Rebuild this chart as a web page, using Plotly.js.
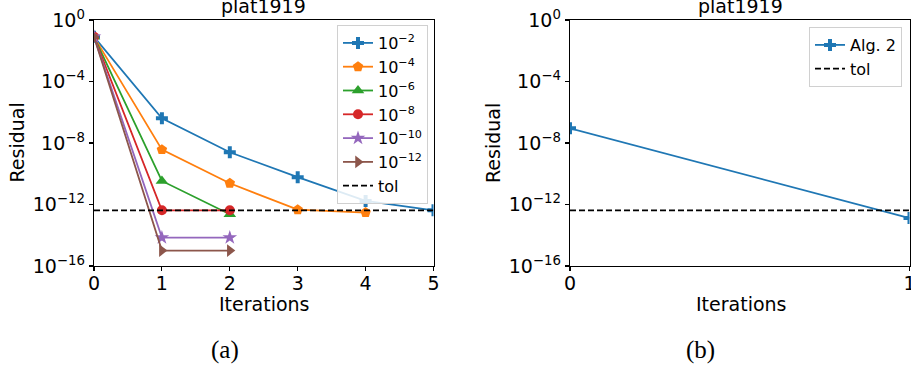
<!DOCTYPE html>
<html>
<head>
<meta charset="utf-8">
<script src="https://cdn.plot.ly/plotly-3.0.1.min.js"></script>
<style>html,body{margin:0;padding:0;background:#fff;}#chart{width:911px;height:370px;}</style>
</head>
<body>
<div id="chart"></div>
<script>
// ---- data ----
const seriesNames = ["10<sup>−2</sup>", "10<sup>−4</sup>", "10<sup>−6</sup>", "10<sup>−8</sup>", "10<sup>−10</sup>", "10<sup>−12</sup>"];
const iters_1e2  = [0, 1, 2, 3, 4, 5];
const resid_1e2  = [0.08, 4e-7, 2.5e-9, 6e-11, 1.7e-12, 4.2e-13];
const iters_1e4  = [0, 1, 2, 3, 4];
const resid_1e4  = [0.08, 3.7e-9, 2.4e-11, 4.6e-13, 3.0e-13];
const iters_1e6  = [0, 1, 2];
const resid_1e6  = [0.08, 3.4e-11, 2.3e-13];
const iters_1e8  = [0, 1, 2];
const resid_1e8  = [0.08, 4.2e-13, 4.2e-13];
const iters_1e10 = [0, 1, 2];
const resid_1e10 = [0.08, 7e-15, 7e-15];
const iters_1e12 = [0, 1, 2];
const resid_1e12 = [0.08, 1e-15, 1e-15];
const tol = 4.2e-13;
const itersA_range = [0, 5];
const algName = "Alg. 2";
const iters_alg = [0, 1];
const resid_alg = [9e-8, 1.3e-13];
const itersB_range = [0, 1];
const xTicksA = [0, 1, 2, 3, 4, 5];
const xTicksB = [0, 1];
const yTickVals = [1, 1e-4, 1e-8, 1e-12, 1e-16];
const yTickText = ["10<sup>0</sup>", "10<sup>−4</sup>", "10<sup>−8</sup>", "10<sup>−12</sup>", "10<sup>−16</sup>"];
const titleText = "plat1919";
const xTitle = "Iterations";
const yTitle = "Residual";
const captions = ["(a)", "(b)"];

// ---- styles ----
const colors = ["#1f77b4", "#ff7f0e", "#2ca02c", "#d62728", "#9467bd", "#8c564b"];
const symbols = ["cross", "pentagon", "triangle-up", "circle", "star", "triangle-right"];
const msizes = [10, 11, 11, 10, 11, 11];
const xs = [iters_1e2, iters_1e4, iters_1e6, iters_1e8, iters_1e10, iters_1e12];
const ys = [resid_1e2, resid_1e4, resid_1e6, resid_1e8, resid_1e10, resid_1e12];
const font = "DejaVu Sans, sans-serif";
const FS = 19;

const traces = [];
for (let i = 0; i < seriesNames.length; i++) {
  traces.push({
    x: xs[i], y: ys[i], name: seriesNames[i], type: "scatter", mode: "lines+markers",
    xaxis: "x", yaxis: "y", legend: "legend",
    line: {color: colors[i], width: 1.8},
    marker: {symbol: symbols[i], size: msizes[i], color: colors[i], line: {width: 0}}
  });
}
traces.push({
  x: itersA_range, y: itersA_range.map(() => tol), name: "tol", type: "scatter", mode: "lines",
  xaxis: "x", yaxis: "y", legend: "legend", line: {color: "#000", width: 1.8, dash: "6px,3px"}
});
traces.push({
  x: iters_alg, y: resid_alg, name: algName, type: "scatter", mode: "lines+markers",
  xaxis: "x2", yaxis: "y2", legend: "legend2",
  line: {color: colors[0], width: 1.8},
  marker: {symbol: "cross", size: 10, color: colors[0], line: {width: 0}}
});
traces.push({
  x: itersB_range, y: itersB_range.map(() => tol), name: "tol", type: "scatter", mode: "lines",
  xaxis: "x2", yaxis: "y2", legend: "legend2", line: {color: "#000", width: 1.8, dash: "6px,3px"}
});

const W = 911, H = 370;
const px = v => v / W, py = v => 1 - v / H;

const xBase = {
  showgrid: false, zeroline: false, showline: true, mirror: true, linecolor: "#000", linewidth: 1.3,
  ticks: "outside", ticklen: 4, tickwidth: 1.1, tickcolor: "#000", ticklabeloverflow: "allow",
  tickfont: {family: font, size: FS, color: "#000"}
};
const yBase = Object.assign({}, xBase, {
  type: "log", range: [-16, 0], tickmode: "array", tickvals: yTickVals, ticktext: yTickText
});

const anns = [];
function ann(text, x, y, opts) {
  anns.push(Object.assign({text: text, x: x, y: y, xref: "paper", yref: "paper", showarrow: false,
    xanchor: "center", yanchor: "middle", font: {family: font, size: FS, color: "#000"}}, opts || {}));
}
ann(titleText, px(263.5), py(6));
ann(titleText, px(740), py(6));
ann(xTitle, px(264), py(304));
ann(xTitle, px(741), py(304));
ann(yTitle, px(16.5), py(143), {textangle: -90});
ann(yTitle, px(493), py(143), {textangle: -90});
ann(captions[0], px(224.5), py(350), {font: {family: "Liberation Serif, serif", size: 25, color: "#000"}});
ann(captions[1], px(700.5), py(350), {font: {family: "Liberation Serif, serif", size: 25, color: "#000"}});

const legendBase = {
  bgcolor: "rgba(255,255,255,0.85)", bordercolor: "#d0d0d0", borderwidth: 1,
  font: {family: font, size: 16, color: "#000"}, xref: "paper", yref: "paper",
  xanchor: "right", yanchor: "top", tracegroupgap: 0, itemwidth: 30
};

const layout = {
  width: W, height: H, margin: {l: 0, r: 0, t: 0, b: 0},
  paper_bgcolor: "#fff", plot_bgcolor: "#fff", showlegend: true,
  xaxis: Object.assign({}, xBase, {domain: [px(94), px(433.5)], range: itersA_range, tickmode: "array", tickvals: xTicksA, anchor: "y", ticklabelstandoff: -4}),
  yaxis: Object.assign({}, yBase, {domain: [py(266), py(20)], anchor: "x"}),
  xaxis2: Object.assign({}, xBase, {domain: [px(570), px(909.5)], range: itersB_range, tickmode: "array", tickvals: xTicksB, anchor: "y2", ticklabelstandoff: -4}),
  yaxis2: Object.assign({}, yBase, {domain: [py(266), py(20)], anchor: "x2"}),
  legend: Object.assign({}, legendBase, {x: px(428), y: py(25)}),
  legend2: Object.assign({}, legendBase, {x: px(902), y: py(27)}),
  annotations: anns
};

Plotly.newPlot("chart", traces, layout, {staticPlot: true, displayModeBar: false});
</script>
</body>
</html>
